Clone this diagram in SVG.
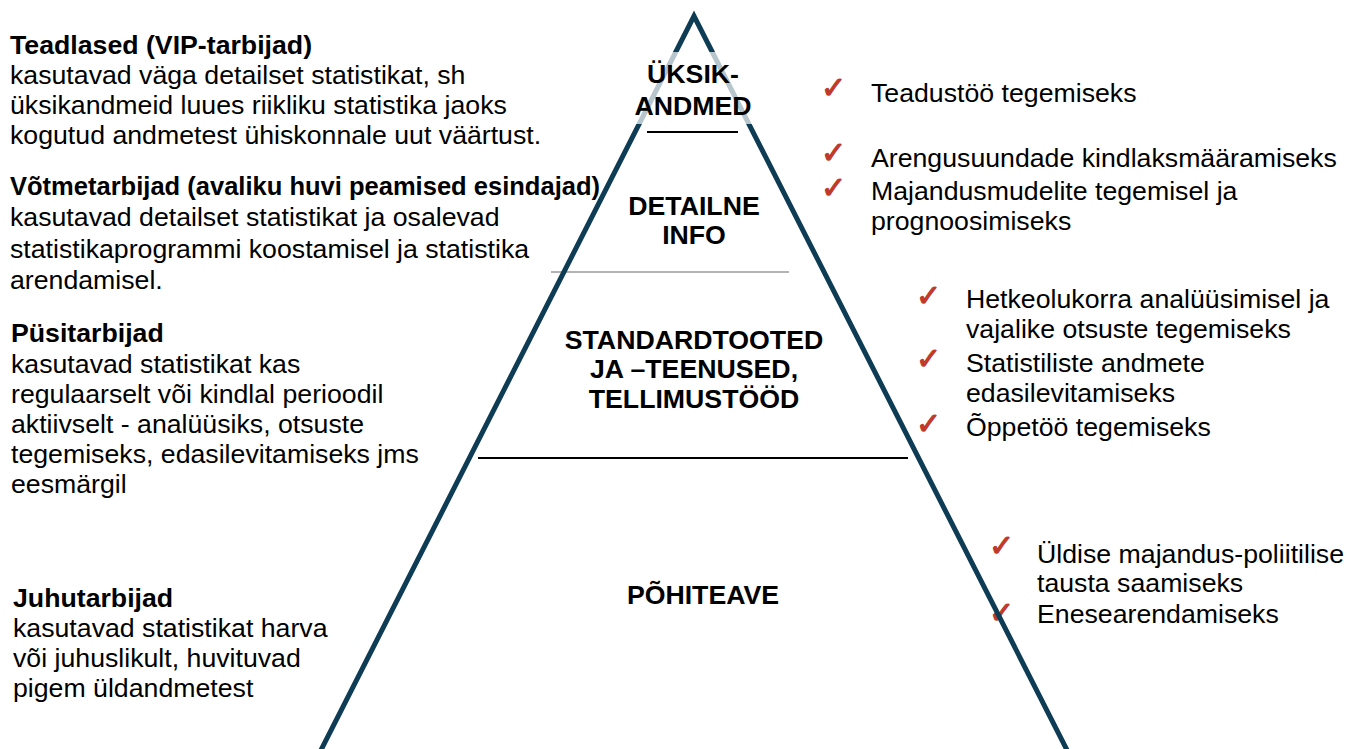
<svg xmlns="http://www.w3.org/2000/svg" width="1348" height="749" viewBox="0 0 1348 749">
<style>
.t{font-family:"Liberation Sans",Arial,sans-serif;font-size:26.7px;fill:#000}
.b{font-weight:bold}
.c{text-anchor:middle}
.ck{font-family:"DejaVu Sans",sans-serif;font-size:30px;fill:#c0392b;stroke:#c0392b;stroke-width:1.2}
.edge{stroke:#0e3c55;stroke-width:5;fill:none}
</style>
<rect width="1348" height="749" fill="#fff"/>
<g id="left-texts">
<g id="teadlased">
<text class="t b" x="10" y="54">Teadlased (VIP-tarbijad)</text>
<text class="t" x="10" y="84">kasutavad väga detailset statistikat, sh</text>
<text class="t" x="10" y="114">üksikandmeid luues riikliku statistika jaoks</text>
<text class="t" x="10" y="144">kogutud andmetest ühiskonnale uut väärtust.</text>
</g>
<g id="votmetarbijad">
<text class="t b" x="10" y="195" textLength="590" lengthAdjust="spacingAndGlyphs">Võtmetarbijad (avaliku huvi peamised esindajad)</text>
<text class="t" x="10" y="226">kasutavad detailset statistikat ja osalevad</text>
<text class="t" x="10" y="258">statistikaprogrammi koostamisel ja statistika</text>
<text class="t" x="10" y="289">arendamisel.</text>
</g>
<g id="pusitarbijad">
<text class="t b" x="11" y="342">Püsitarbijad</text>
<text class="t" x="11" y="373">kasutavad statistikat kas</text>
<text class="t" x="11" y="403">regulaarselt või kindlal perioodil</text>
<text class="t" x="11" y="433">aktiivselt - analüüsiks, otsuste</text>
<text class="t" x="11" y="463">tegemiseks, edasilevitamiseks jms</text>
<text class="t" x="11" y="493">eesmärgil</text>
</g>
<g id="juhutarbijad">
<text class="t b" x="13" y="607">Juhutarbijad</text>
<text class="t" x="13" y="637">kasutavad statistikat harva</text>
<text class="t" x="13" y="667">või juhuslikult, huvituvad</text>
<text class="t" x="13" y="697">pigem üldandmetest</text>
</g>
</g>
<g id="right-texts">
<g id="r1">
<text class="ck" x="821" y="98">✓</text>
<text class="t" x="871" y="102">Teadustöö tegemiseks</text>
</g>
<g id="r2">
<text class="ck" x="821" y="163">✓</text>
<text class="ck" x="821" y="198">✓</text>
<text class="t" x="871" y="167">Arengusuundade kindlaksmääramiseks</text>
<text class="t" x="871" y="200">Majandusmudelite tegemisel ja</text>
<text class="t" x="871" y="230">prognoosimiseks</text>
</g>
<g id="r3">
<text class="ck" x="916" y="306">✓</text>
<text class="ck" x="916" y="369">✓</text>
<text class="ck" x="916" y="434">✓</text>
<text class="t" x="966" y="308">Hetkeolukorra analüüsimisel ja</text>
<text class="t" x="966" y="338">vajalike otsuste tegemiseks</text>
<text class="t" x="966" y="372">Statistiliste andmete</text>
<text class="t" x="966" y="402">edasilevitamiseks</text>
<text class="t" x="966" y="436">Õppetöö tegemiseks</text>
</g>
<g id="r4">
<text class="ck" x="989" y="556">✓</text>
<text class="ck" x="989" y="623">✓</text>
<text class="t" x="1037" y="563">Üldise majandus-poliitilise</text>
<text class="t" x="1037" y="592">tausta saamiseks</text>
<text class="t" x="1037" y="623">Enesearendamiseks</text>
</g>
</g>
<g id="connectors">
<line x1="551" y1="272" x2="789" y2="272" stroke="#b3b3b3" stroke-width="2"/>
<line x1="478" y1="458" x2="908" y2="458" stroke="#000" stroke-width="2"/>
<line x1="647" y1="132" x2="738" y2="132" stroke="#000" stroke-width="2"/>
<polyline class="edge" points="320,752 694,16 1068,752"/>
</g>
<g id="pyramid-labels">
<g id="uksikandmed">
<rect x="630" y="52" width="130" height="72" fill="#fff" fill-opacity="0.7"/>
<text class="t b c" x="693" y="83">ÜKSIK-</text>
<text class="t b c" x="693" y="115">ANDMED</text>
</g>
<g id="detailne">
<text class="t b c" x="694" y="215">DETAILNE</text>
<text class="t b c" x="694" y="244">INFO</text>
</g>
<g id="standard">
<text class="t b c" x="694" y="349">STANDARDTOOTED</text>
<text class="t b c" x="694" y="378">JA –TEENUSED,</text>
<text class="t b c" x="694" y="408">TELLIMUSTÖÖD</text>
</g>
<g id="pohiteave">
<text class="t b c" x="703" y="604">PÕHITEAVE</text>
</g>
</g>
</svg>
